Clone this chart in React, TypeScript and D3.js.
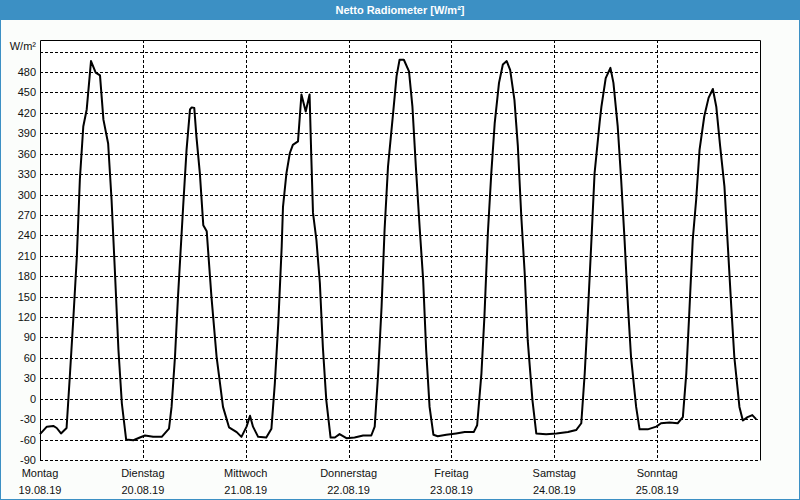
import { useEffect, useRef } from 'react';
import * as d3 from 'd3';

const dayNames = ['Montag', 'Dienstag', 'Mittwoch', 'Donnerstag', 'Freitag', 'Samstag', 'Sonntag'];
const dayDates = ['19.08.19', '20.08.19', '21.08.19', '22.08.19', '23.08.19', '24.08.19', '25.08.19'];
const yTickLabels = [-90, -60, -30, 0, 30, 60, 90, 120, 150, 180, 210, 240, 270, 300, 330, 360, 390, 420, 450, 480];
const yGridValues = [...yTickLabels, 510];

// [hour of day, W/m²]
const mon = [[0, -52], [1.6, -41], [3.1, -40], [3.9, -43], [4.9, -51], [6.2, -43], [7.0, 37], [7.8, 120], [8.6, 209], [9.3, 322], [10.1, 400], [10.9, 425], [11.9, 496], [13.0, 479], [14.0, 475], [14.8, 410], [15.9, 375], [16.7, 292], [17.5, 184], [18.3, 72], [19.1, -7], [20.1, -60], [21.8, -61], [23.3, -57]];
const tue = [[0.5, -54], [2.4, -56], [4.4, -56], [6.1, -44], [6.7, -12], [7.5, 62], [8.2, 150], [9.4, 282], [10.2, 366], [11.0, 425], [11.4, 428], [12.0, 427], [12.5, 385], [13.3, 331], [14.1, 255], [14.9, 246], [16.0, 150], [17.2, 62], [18.7, -12], [20.1, -42], [21.9, -49], [23.0, -56]];
const wed = [[0.2, -41], [1.0, -25], [1.7, -41], [2.9, -56], [4.8, -57], [6.0, -44], [6.8, 23], [7.6, 111], [8.4, 224], [8.7, 282], [9.5, 331], [10.3, 361], [11.0, 373], [12.2, 378], [13.0, 447], [14.0, 422], [14.9, 447], [15.3, 356], [15.7, 273], [16.5, 233], [17.3, 170], [18.0, 76], [18.8, -2], [19.8, -57], [20.8, -57], [21.9, -52], [23.5, -58]];
const thu = [[1.4, -57], [3.4, -54], [5.3, -54], [6.1, -41], [6.9, 37], [7.7, 135], [8.4, 248], [9.2, 341], [10.4, 420], [11.2, 474], [11.9, 498], [12.9, 498], [14.1, 481], [14.9, 429], [15.7, 341], [16.6, 250], [17.4, 175], [18.1, 72], [18.9, -12], [19.8, -53], [20.8, -55], [22.8, -53]];
const fri = [[1.1, -51], [3.1, -49], [5.2, -49], [6.0, -39], [7.0, 37], [7.7, 121], [8.5, 243], [9.3, 331], [10.1, 405], [11.1, 464], [12.0, 491], [12.9, 496], [13.7, 483], [14.7, 439], [15.5, 371], [16.3, 268], [17.1, 184], [17.8, 86], [18.9, -2], [19.8, -51], [22.1, -52]];
const sat = [[0.5, -51], [3.2, -49], [5.1, -46], [6.3, -36], [7.1, 37], [7.8, 121], [8.6, 224], [9.4, 331], [10.6, 407], [11.0, 429], [12.0, 471], [13.1, 486], [13.8, 464], [14.8, 400], [15.6, 322], [16.4, 233], [17.2, 135], [17.9, 62], [19.1, -12], [19.9, -45], [21.8, -45], [23.8, -41]];
const sun = [[0.9, -36], [2.9, -35], [4.8, -36], [6.0, -27], [6.8, 37], [7.5, 126], [8.3, 233], [9.1, 292], [9.9, 366], [11.0, 415], [12.0, 442], [13.0, 455], [13.8, 429], [14.7, 371], [15.7, 312], [16.5, 224], [17.3, 135], [18.0, 62], [19.2, -12], [20.0, -32], [21.1, -27], [22.2, -24], [23.1, -30]];

const days = [mon, tue, wed, thu, fri, sat, sun];

export default function App() {
    const svgRef = useRef<SVGSVGElement>(null);

    useEffect(() => {
        document.body.style.margin = '0';
        if (!svgRef.current) return;

        const svg = d3.select(svgRef.current);
        svg.selectAll('*').remove();

        const width = 800;
        const height = 500;
        const plot = { left: 40, right: 760, top: 40, bottom: 460 };
        const font = '"Liberation Sans", Arial, sans-serif';

        const x = d3.scaleLinear().domain([0, 24 * 7]).range([plot.left, plot.right]);
        const y = d3.scaleLinear().domain([-90, 527]).range([plot.bottom, plot.top]);

        const points = days.flatMap((d, i) => d.map(([h, v]) => ({ t: i * 24 + h, v })));

        // window frame
        svg.append('rect')
            .attr('width', width).attr('height', height)
            .attr('fill', '#fbfdfb');
        svg.append('rect')
            .attr('x', 0.5).attr('y', 0.5)
            .attr('width', width - 1).attr('height', height - 1)
            .attr('fill', 'none').attr('stroke', '#3c90c4');
        svg.append('rect')
            .attr('width', width).attr('height', 20)
            .attr('fill', '#3c90c4');
        svg.append('text')
            .attr('x', width / 2).attr('y', 14)
            .attr('text-anchor', 'middle')
            .style('font-family', font)
            .style('font-weight', 'bold')
            .style('font-size', '11px')
            .attr('fill', '#fff')
            .text('Netto Radiometer [W/m²]');

        svg.append('rect')
            .attr('x', plot.left).attr('y', plot.top)
            .attr('width', plot.right - plot.left).attr('height', plot.bottom - plot.top)
            .attr('fill', '#fff');

        // horizontal grid
        svg.append('g')
            .selectAll('line')
            .data(yGridValues)
            .enter()
            .append('line')
            .attr('x1', plot.left).attr('x2', plot.right)
            .attr('y1', d => Math.round(y(d)) + 0.5)
            .attr('y2', d => Math.round(y(d)) + 0.5)
            .attr('stroke', '#000')
            .attr('stroke-dasharray', '3,2');

        // vertical grid at midnight
        svg.append('g')
            .selectAll('line')
            .data(d3.range(1, 7))
            .enter()
            .append('line')
            .attr('x1', d => Math.round(x(d * 24)) + 0.5)
            .attr('x2', d => Math.round(x(d * 24)) + 0.5)
            .attr('y1', plot.top).attr('y2', plot.bottom)
            .attr('stroke', '#000')
            .attr('stroke-dasharray', '3,2');

        // solid frame: left, top, right
        svg.append('path')
            .attr('d', `M${plot.left + 0.5},${plot.bottom}V${plot.top + 0.5}H${plot.right + 0.5}V${plot.bottom + 0.5}`)
            .attr('fill', 'none')
            .attr('stroke', '#000');

        // y labels
        svg.append('g')
            .selectAll('text')
            .data(yTickLabels)
            .enter()
            .append('text')
            .attr('x', 36)
            .attr('y', d => y(d) + 4)
            .attr('text-anchor', 'end')
            .style('font-family', font)
            .style('font-size', '11px')
            .attr('fill', '#111')
            .text(d => d);

        svg.append('text')
            .attr('x', 36).attr('y', 50)
            .attr('text-anchor', 'end')
            .style('font-family', font)
            .style('font-size', '11px')
            .attr('fill', '#111')
            .text('W/m²');

        // day labels
        const dayG = svg.append('g')
            .selectAll('g')
            .data(dayNames)
            .enter()
            .append('g')
            .attr('transform', (_, i) => `translate(${x(i * 24)},0)`);
        dayG.append('text')
            .attr('y', 477)
            .attr('text-anchor', 'middle')
            .style('font-family', font)
            .style('font-size', '11px')
            .attr('fill', '#111')
            .text(d => d);
        dayG.append('text')
            .attr('y', 494)
            .attr('text-anchor', 'middle')
            .style('font-family', font)
            .style('font-size', '11px')
            .attr('fill', '#111')
            .text((_, i) => dayDates[i]);

        const line = d3.line<{ t: number; v: number }>()
            .x(d => x(d.t))
            .y(d => y(d.v));

        svg.append('path')
            .datum(points)
            .attr('fill', 'none')
            .attr('stroke', '#000')
            .attr('stroke-width', 2)
            .attr('stroke-linejoin', 'round')
            .attr('d', line);
    }, []);

    return <svg ref={svgRef} width={800} height={500} style={{ display: 'block' }} />;
}
